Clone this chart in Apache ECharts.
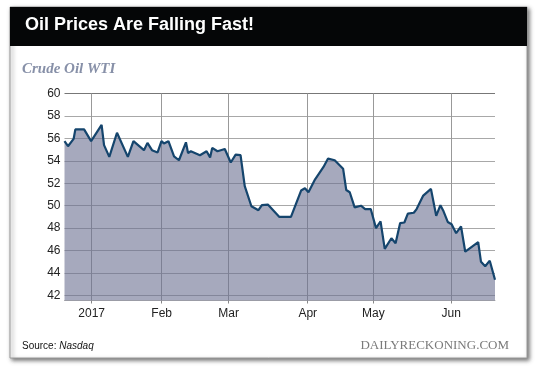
<!DOCTYPE html>
<html>
<head>
<meta charset="utf-8">
<script src="https://cdn.jsdelivr.net/npm/echarts@6/dist/echarts.min.js"></script>
<style>
html,body{margin:0;padding:0;background:#fff;}
#c{width:540px;height:370px;}
</style>
</head>
<body>
<div id="c"></div>
<script>
// Trading-day index (0 = Dec 20, 2016) of each vertex of the line
var dayIdx = [0, 1.0, 2.6, 3.1, 5.6, 7.6, 10.6, 11.3, 12.8, 15.0,
  18.1, 19.7, 22.7, 23.7, 25.0, 26.6, 27.7, 28.4, 29.7, 31.3,
  32.7, 34.7, 35.3, 36.1, 38.7, 40.6, 41.6, 42.2, 43.7, 45.8,
  47.5, 48.9, 50.3, 51.5, 53.4, 55.4, 56.4, 58.1, 61.4, 64.7,
  67.6, 68.7, 69.7, 71.6, 74.0, 75.3, 77.2, 79.6, 80.5, 81.5,
  82.9, 84.7, 85.9, 87.5, 89.0, 90.3, 91.5, 93.4, 94.6, 95.9,
  97.1, 98.1, 99.8, 100.6, 102.5, 104.7, 106.2, 107.4, 108.3, 109.5,
  110.6, 111.9, 113.3, 114.5, 118.2, 119.0, 120.2, 121.5, 123];
// Crude oil price (USD) at each vertex
var price = [55.75, 55.3, 55.95, 56.8, 56.8, 55.75, 57.2, 55.4, 54.35, 56.5,
  54.35, 55.75, 54.95, 55.6, 54.95, 54.75, 55.75, 55.55, 55.75, 54.4,
  54.05, 55.65, 54.7, 54.85, 54.5, 54.85, 54.3, 55.15, 54.85, 55.05,
  53.85, 54.55, 54.5, 51.75, 49.95, 49.6, 50.05, 50.1, 49.0, 49.0,
  51.35, 51.55, 51.2, 52.35, 53.45, 54.2, 54.05, 53.3, 51.4, 51.2,
  49.85, 50.0, 49.7, 49.7, 48.0, 48.6, 46.15, 47.1, 46.65, 48.45,
  48.5, 49.3, 49.37, 49.7, 50.9, 51.5, 49.1, 50.05, 49.5, 48.55,
  48.35, 47.55, 48.15, 45.9, 46.75, 45.0, 44.6, 45.1, 43.4];
// Month boundaries (trading-day index) and their labels
var monthPos = [7.77, 27.77, 46.91, 69.49, 88.23, 110.51];
var monthLabels = ['2017', 'Feb', 'Mar', 'Apr', 'May', 'Jun'];
// Y tick labels
var yTicks = [42, 44, 46, 48, 50, 52, 54, 56, 58, 60];

var seriesData = dayIdx.map(function (d, i) { return [d, price[i]]; });
var gridColors = yTicks.map(function (v) { return v === 60 ? '#777' : '#a8a8a8'; });

var chart = echarts.init(document.getElementById('c'), null, {renderer: 'canvas'});
chart.setOption({
  animation: false,
  backgroundColor: '#fff',
  graphic: [
    {type: 'rect', z: -10, shape: {x: 10, y: 7, width: 517, height: 351},
      style: {fill: '#fff', stroke: '#9a9a9a', lineWidth: 1,
        shadowBlur: 4, shadowOffsetX: 2, shadowOffsetY: 2, shadowColor: 'rgba(0,0,0,0.55)'}},
    {type: 'rect', z: -9, shape: {x: 10, y: 7, width: 517, height: 39}, style: {fill: '#050607'}},
    {type: 'text', left: 25, top: 16, z: 10,
      style: {text: 'Oil Prices Are Falling Fast!', fill: '#fff',
        font: 'bold 18px "Liberation Sans", Arial, sans-serif'}},
    {type: 'text', left: 22, top: 62, z: 10,
      style: {text: 'Crude Oil WTI', fill: '#8790a8',
        font: 'italic bold 15px "Liberation Serif", "DejaVu Serif", serif'}},
    {type: 'text', left: 22, top: 341, z: 10,
      style: {
        text: '{a|Source: }{b|Nasdaq}',
        rich: {
          a: {fill: '#111', font: '10px "Liberation Sans", Arial, sans-serif'},
          b: {fill: '#111', font: 'italic 10px "Liberation Sans", Arial, sans-serif'}
        }
      }},
    {type: 'text', right: 31, top: 339, z: 10,
      style: {text: 'DAILYRECKONING.COM', fill: '#7a7a7a',
        font: '13px "Liberation Serif", "DejaVu Serif", serif'}}
  ],
  grid: {left: 64.5, right: 45, top: 93.5, bottom: 69.5, containLabel: false},
  xAxis: {
    type: 'value', min: 0, max: 123,
    axisLine: {show: true, lineStyle: {color: '#b0b0b0', width: 1}},
    axisTick: {show: true, customValues: monthPos, length: 3, lineStyle: {color: '#888'}},
    axisLabel: {customValues: monthPos, margin: 7, color: '#222', fontSize: 12,
      fontFamily: '"Liberation Sans", Arial, sans-serif',
      formatter: function (v) {
        var i = monthPos.indexOf(v);
        return i >= 0 ? monthLabels[i] : '';
      }},
    splitLine: {show: true, lineStyle: {color: '#999', width: 1}}
  },
  yAxis: {
    type: 'value', min: 41.55, max: 60,
    axisLine: {show: false},
    axisTick: {show: false, customValues: yTicks},
    axisLabel: {customValues: yTicks, margin: 4, color: '#222', fontSize: 12,
      fontFamily: '"Liberation Sans", Arial, sans-serif'},
    splitLine: {show: true, lineStyle: {color: gridColors, width: 1}}
  },
  series: [{
    type: 'line',
    data: seriesData,
    symbol: 'none',
    lineStyle: {color: '#15456d', width: 2.2},
    areaStyle: {color: 'rgb(107,111,145)', opacity: 0.6},
    z: 3
  }]
});
</script>
</body>
</html>
